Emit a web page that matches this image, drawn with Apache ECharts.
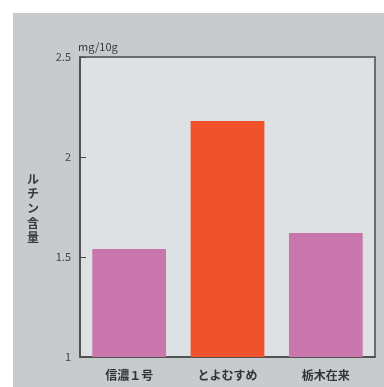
<!DOCTYPE html>
<html>
<head>
<meta charset="utf-8">
<style>
  html, body { margin: 0; padding: 0; background: #ffffff; }
  #chart { width: 384px; height: 387px; }
</style>
<script src="https://cdn.jsdelivr.net/npm/echarts@6/dist/echarts.min.js"></script>
</head>
<body>
<div id="chart"></div>
<script>
// Rutin content by buckwheat variety (mg/10g)
const varieties = ['信濃１号', 'とよむすめ', '栃木在来'];
const rutin = [1.54, 2.18, 1.62];
const barColors = ['#c876ab', '#f0532b', '#c876ab'];
const yTicks = { min: 1, max: 2.5, step: 0.5 };

const FONT = '"Noto Sans CJK JP", "Noto Sans", sans-serif';

const chart = echarts.init(document.getElementById('chart'), null, { renderer: 'canvas' });

chart.setOption({
  backgroundColor: '#ffffff',
  animation: false,
  graphic: [
    {
      type: 'rect',
      z: -10,
      shape: { x: 13, y: 13, width: 371, height: 374 },
      style: { fill: '#c7cbcd' }
    },
    {
      type: 'text',
      left: 27,
      top: 172,
      style: {
        text: 'ル\nチ\nン\n含\n量',
        font: 'bold 12px ' + FONT,
        lineHeight: 14.6,
        fill: '#3a3a3a',
        textAlign: 'left'
      }
    }
  ],
  grid: {
    left: 80, top: 57, right: 9, bottom: 30,
    show: true,
    backgroundColor: '#dde1e3',
    borderColor: '#4a4a4a',
    borderWidth: 1.5
  },
  xAxis: {
    type: 'category',
    data: varieties,
    axisLine: { lineStyle: { color: '#4a4a4a', width: 1.5 } },
    axisTick: { show: false },
    axisLabel: { color: '#333', fontSize: 12, fontFamily: FONT, margin: 12, fontWeight: 'bold' }
  },
  yAxis: {
    type: 'value',
    min: yTicks.min,
    max: yTicks.max,
    interval: yTicks.step,
    name: 'mg/10g',
    nameLocation: 'end',
    nameGap: 5,
    nameTextStyle: { color: '#3a3a3a', fontSize: 11, fontFamily: FONT, align: 'left', padding: [0, 0, 0, -2] },
    axisLine: { show: true, lineStyle: { color: '#4a4a4a', width: 1.5 } },
    axisTick: { show: true, inside: true, length: 6, lineStyle: { color: '#4a4a4a' } },
    splitLine: { show: false },
    axisLabel: { color: '#444', fontSize: 11, fontFamily: FONT, margin: 9 }
  },
  series: [{
    type: 'bar',
    barWidth: '75%',
    data: rutin.map((v, i) => ({ value: v, itemStyle: { color: barColors[i] } }))
  }]
});
</script>
</body>
</html>
